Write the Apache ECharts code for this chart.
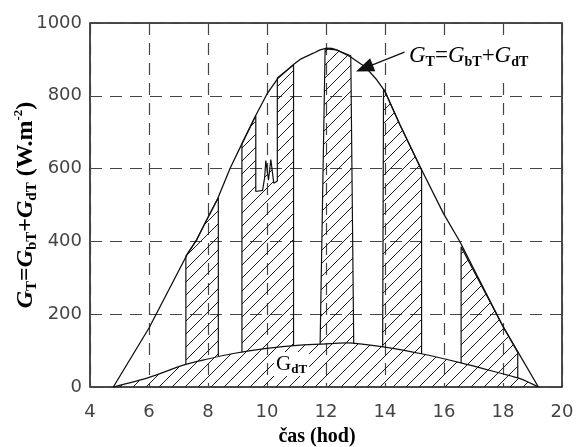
<!DOCTYPE html>
<html>
<head>
<meta charset="utf-8">
<script src="https://cdn.jsdelivr.net/npm/echarts@6/dist/echarts.min.js"></script>
<style>
html,body{margin:0;padding:0;background:#fff;}
#main{width:577px;height:447px;}
</style>
</head>
<body>
<div id="main"></div>
<script>
// ---- data ----
const xTicks = [4, 6, 8, 10, 12, 14, 16, 18, 20];
const yTicks = [0, 200, 400, 600, 800, 1000];

// total irradiance G_T (clear-sky envelope)
const gtCurve = [
  [4.79, 0], [6.0, 162], [7.28, 362], [7.62, 405], [7.95, 458], [8.33, 518],
  [8.75, 601], [9.16, 670], [9.6, 743], [10.0, 805], [10.38, 849], [10.89, 885],
  [11.12, 900], [11.57, 917], [11.8, 926], [12.02, 931], [12.2, 930], [12.36, 926],
  [12.81, 908], [13.32, 880], [13.72, 844], [14.0, 812], [14.51, 720], [15.19, 605],
  [15.98, 477], [16.54, 399], [18.01, 165], [19.2, 0]
];

// diffuse irradiance G_dT
const gdCurve = [
  [4.79, 0], [6.03, 27], [7.16, 60], [8.0, 77], [8.86, 92], [9.99, 106],
  [11.12, 115], [12.14, 119], [12.7, 121], [13.3, 117], [13.94, 110],
  [15.19, 92], [16.54, 67], [17.95, 37], [18.58, 23], [19.2, 0]
];

// sunny periods (hatched bands between G_dT and G_T)
const band1 = [[7.25, 62], [7.25, 360], [7.62, 405], [7.95, 458], [8.35, 520], [8.35, 83]];
const band2 = [
  [9.15, 95], [9.15, 668], [9.62, 745], [9.62, 537], [9.85, 540], [9.92, 575],
  [9.96, 622], [10.01, 618], [10.05, 568], [10.09, 572], [10.13, 625], [10.18, 620],
  [10.23, 560], [10.35, 566], [10.35, 849], [10.9, 885], [10.9, 113]
];
const band3 = [[11.8, 117], [11.97, 929], [12.02, 931], [12.36, 926], [12.84, 910], [12.94, 119]];
const band4 = [[13.92, 110], [13.95, 818], [14.0, 812], [14.51, 720], [15.24, 596], [15.24, 91]];
const band5 = [[16.58, 66], [16.58, 385], [18.01, 165], [18.5, 95], [18.5, 25]];
const bands = [band1, band2, band3, band4, band5];

// arrow annotation (from label to curve)
const arrowFrom = [14.66, 920];
const arrowTo = [13.3, 876];

// ---- hatch pattern ----
function hatch() {
  const s = 13;
  const c = document.createElement('canvas');
  c.width = s; c.height = s;
  const g = c.getContext('2d');
  g.strokeStyle = '#1a1a1a';
  g.lineWidth = 1;
  [-s, 0, s].forEach(k => {
    g.beginPath();
    g.moveTo(k, s);
    g.lineTo(k + s, 0);
    g.stroke();
  });
  return c;
}
const pat = { image: hatch(), repeat: 'repeat' };

const chart = echarts.init(document.getElementById('main'), null, { renderer: 'canvas' });

const lineBase = {
  type: 'line',
  symbol: 'none',
  silent: true,
  animation: false,
  lineStyle: { color: '#111', width: 1.2 }
};

const series = [];
series.push(Object.assign({}, lineBase, {
  name: 'gd',
  data: gdCurve,
  smooth: 0.3,
  areaStyle: { color: pat, opacity: 1 },
  z: 3
}));
bands.forEach((b, i) => {
  series.push(Object.assign({}, lineBase, {
    name: 'band' + i,
    data: b,
    areaStyle: { color: pat, opacity: 1 },
    z: 2
  }));
});
series.push(Object.assign({}, lineBase, {
  name: 'gt',
  data: gtCurve,
  lineStyle: { color: '#111', width: 1.3 },
  z: 4,
  markLine: {
    silent: true,
    animation: false,
    symbol: ['none', 'triangle'],
    symbolSize: [14, 18],
    label: { show: false },
    itemStyle: { color: '#000' },
    lineStyle: { color: '#111', width: 1.3, type: 'solid' },
    data: [[{ coord: arrowFrom }, { coord: arrowTo }]]
  }
}));

const serif = 'Liberation Serif';

chart.setOption({
  animation: false,
  backgroundColor: '#fff',
  grid: {
    left: 90, right: 15, top: 23, bottom: 60,
    outerBoundsMode: 'none',
    containLabel: false,
    show: true, borderColor: '#111', borderWidth: 1.5, backgroundColor: 'transparent'
  },
  xAxis: {
    type: 'value',
    min: xTicks[0], max: xTicks[xTicks.length - 1], interval: 2,
    name: 'čas (hod)',
    nameLocation: 'middle',
    nameGap: 40,
    nameMoveOverlap: false,
    nameTextStyle: { fontFamily: serif, fontWeight: 'bold', fontSize: 20, color: '#000', padding: [0, 18, 0, 0] },
    axisLine: { show: false },
    axisTick: { show: false },
    axisLabel: { fontFamily: 'DejaVu Sans', fontSize: 18, color: '#444', margin: 16 },
    splitLine: { show: true, lineStyle: { color: '#444', width: 1.2, type: [12, 8] } }
  },
  yAxis: {
    type: 'value',
    min: yTicks[0], max: yTicks[yTicks.length - 1], interval: 200,
    name: '{g|G}{s|T}{n|=}{g|G}{s|bT}{n|+}{g|G}{s|dT}{b| (W.m}{p|-2}{b|)}',
    nameLocation: 'middle',
    nameRotate: 90,
    nameGap: 50,
    nameMoveOverlap: false,
    nameTextStyle: {
      rich: {
        g: { fontFamily: serif, fontStyle: 'italic', fontWeight: 'bold', fontSize: 24, color: '#000', lineHeight: 28, verticalAlign: 'middle' },
        s: { fontFamily: serif, fontWeight: 'bold', fontSize: 15, color: '#000', lineHeight: 14, verticalAlign: 'bottom' },
        n: { fontFamily: serif, fontWeight: 'bold', fontSize: 24, color: '#000', lineHeight: 28, verticalAlign: 'middle' },
        b: { fontFamily: serif, fontWeight: 'bold', fontSize: 24, color: '#000', lineHeight: 28, verticalAlign: 'middle' },
        p: { fontFamily: serif, fontWeight: 'bold', fontSize: 13, color: '#000', lineHeight: 12, verticalAlign: 'top' }
      }
    },
    axisLine: { show: false },
    axisTick: { show: false },
    axisLabel: { fontFamily: 'DejaVu Sans', fontSize: 18, color: '#444', margin: 8, formatter: v => String(v) },
    splitLine: { show: true, lineStyle: { color: '#444', width: 1.2, type: [12, 8] } }
  },
  graphic: [
    {
      type: 'text', left: 406, top: 36, z: 10,
      style: {
        text: '{g|G}{s|T}{n|=}{g|G}{s|bT}{n|+}{g|G}{s|dT}',
        backgroundColor: '#fff',
        padding: [6, 3, 8, 3],
        rich: {
          g: { fontFamily: serif, fontStyle: 'italic', fontSize: 23, fill: '#000', lineHeight: 27, verticalAlign: 'middle' },
          s: { fontFamily: serif, fontWeight: 'bold', fontSize: 14, fill: '#000', lineHeight: 13, verticalAlign: 'bottom' },
          n: { fontFamily: serif, fontSize: 23, fill: '#000', lineHeight: 27, verticalAlign: 'middle' }
        }
      }
    },
    {
      type: 'text', left: 274, top: 352, z: 10,
      style: {
        text: '{g|G}{s|dT}',
        backgroundColor: '#fff',
        padding: [0, 2, 0, 2],
        rich: {
          g: { fontFamily: serif, fontSize: 21, fill: '#000', lineHeight: 24, verticalAlign: 'middle' },
          s: { fontFamily: serif, fontWeight: 'bold', fontSize: 13, fill: '#000', lineHeight: 13, verticalAlign: 'bottom' }
        }
      }
    }
  ],
  series: series
});
</script>
</body>
</html>
